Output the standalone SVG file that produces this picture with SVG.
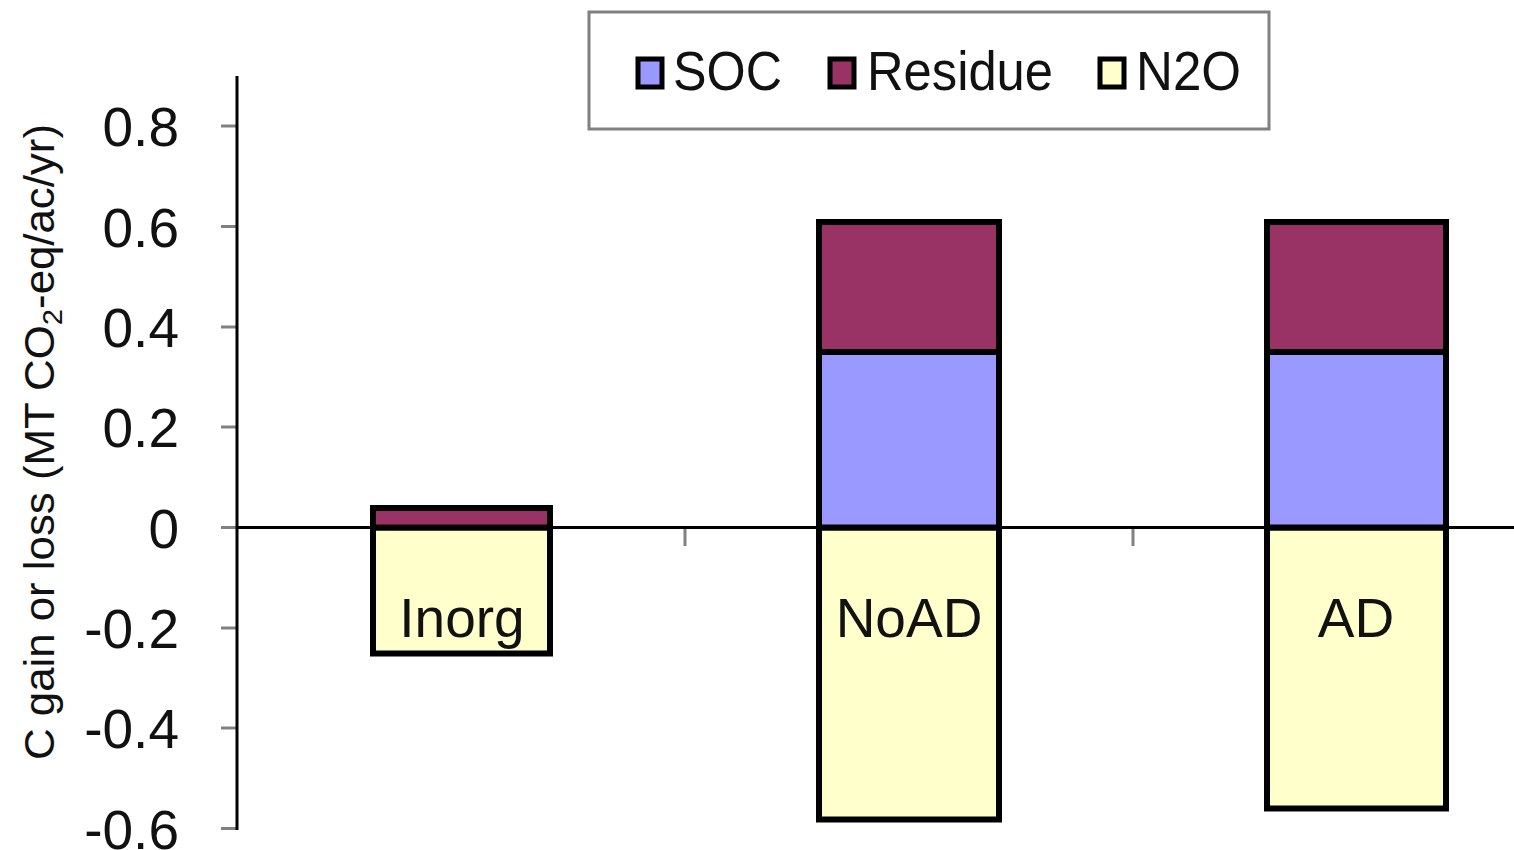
<svg xmlns="http://www.w3.org/2000/svg" width="1514" height="850" viewBox="0 0 1514 850">
  <style>
    text { font-family: "Liberation Sans", Arial, sans-serif; fill: #111; }
    .tick-label { font-size: 55px; text-anchor: end; }
    .bar-label { font-size: 55px; text-anchor: middle; }
    .legend-text { font-size: 55px; }
    .axis-title { font-size: 42px; text-anchor: middle; }
    .seg { stroke: #000; stroke-width: 6; }
    .soc { fill: #9999FF; }
    .residue { fill: #993366; }
    .n2o { fill: #FFFFCC; }
    .tick { stroke: #808080; stroke-width: 3; }
    .axis { stroke: #000; stroke-width: 3; fill: none; }
    .swatch { stroke: #000; stroke-width: 5; }
  </style>

  <rect width="1514" height="850" fill="#ffffff"/>

  <!-- legend -->
  <g id="legend">
    <rect x="589" y="12" width="680" height="117" fill="#ffffff" stroke="#808080" stroke-width="3"/>
    <rect class="swatch soc" x="638" y="59" width="24" height="28"/>
    <text class="legend-text" x="673" y="90" textLength="109" lengthAdjust="spacingAndGlyphs">SOC</text>
    <rect class="swatch residue" x="830" y="59" width="24" height="28"/>
    <text class="legend-text" x="867" y="90" textLength="186" lengthAdjust="spacingAndGlyphs">Residue</text>
    <rect class="swatch n2o" x="1100" y="59" width="24" height="28"/>
    <text class="legend-text" x="1136" y="90" textLength="105" lengthAdjust="spacingAndGlyphs">N2O</text>
  </g>

  <!-- y axis title -->
  <g id="y-title">
    <text class="axis-title" transform="translate(54,442) rotate(-90)" textLength="636" lengthAdjust="spacingAndGlyphs">C gain or loss (MT CO<tspan font-size="28" dy="8">2</tspan><tspan dy="-8">-eq/ac/yr)</tspan></text>
  </g>

  <!-- y axis with ticks and labels -->
  <g id="y-axis">
    <line class="tick" x1="221" y1="126" x2="237" y2="126"/>
    <line class="tick" x1="221" y1="226.5" x2="237" y2="226.5"/>
    <line class="tick" x1="221" y1="327" x2="237" y2="327"/>
    <line class="tick" x1="221" y1="427" x2="237" y2="427"/>
    <line class="tick" x1="221" y1="527.5" x2="237" y2="527.5"/>
    <line class="tick" x1="221" y1="628" x2="237" y2="628"/>
    <line class="tick" x1="221" y1="728" x2="237" y2="728"/>
    <line class="tick" x1="221" y1="828.5" x2="237" y2="828.5"/>
    <line class="axis" x1="237" y1="76" x2="237" y2="830"/>
    <text class="tick-label" x="179" y="146">0.8</text>
    <text class="tick-label" x="179" y="246.5">0.6</text>
    <text class="tick-label" x="179" y="347">0.4</text>
    <text class="tick-label" x="179" y="447">0.2</text>
    <text class="tick-label" x="179" y="547.5">0</text>
    <text class="tick-label" x="179" y="648">-0.2</text>
    <text class="tick-label" x="179" y="748">-0.4</text>
    <text class="tick-label" x="179" y="848.5">-0.6</text>
  </g>

  <!-- Inorg bar -->
  <g id="bar-inorg">
    <rect class="seg n2o" x="373" y="527.5" width="177" height="126"/>
    <rect class="seg residue" x="373" y="508" width="177" height="19.5"/>
    <text class="bar-label" x="462" y="637">Inorg</text>
  </g>

  <!-- NoAD bar -->
  <g id="bar-noad">
    <rect class="seg n2o" x="819" y="527.5" width="180" height="292"/>
    <rect class="seg soc" x="819" y="352" width="180" height="175.5"/>
    <rect class="seg residue" x="819" y="222" width="180" height="130"/>
    <text class="bar-label" x="909" y="637">NoAD</text>
  </g>

  <!-- AD bar -->
  <g id="bar-ad">
    <rect class="seg n2o" x="1267" y="527.5" width="179" height="281"/>
    <rect class="seg soc" x="1267" y="352" width="179" height="175.5"/>
    <rect class="seg residue" x="1267" y="222" width="179" height="130"/>
    <text class="bar-label" x="1356" y="637">AD</text>
  </g>

  <!-- zero line and category ticks -->
  <g id="x-axis">
    <line class="tick" x1="685" y1="529" x2="685" y2="546"/>
    <line class="tick" x1="1133" y1="529" x2="1133" y2="546"/>
    <line class="axis" x1="237" y1="527.5" x2="1514" y2="527.5"/>
  </g>
</svg>
